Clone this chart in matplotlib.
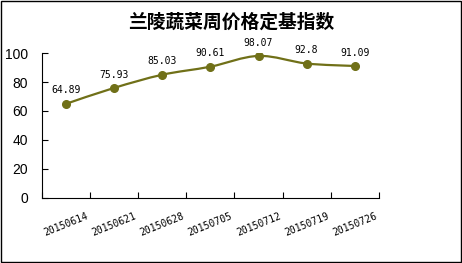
import matplotlib.pyplot as plt
from matplotlib.path import Path
from matplotlib.patches import PathPatch, Rectangle
import numpy as np

plt.rcParams['font.family'] = ['Noto Sans CJK SC', 'DejaVu Sans']

dates = ['20150614', '20150621', '20150628', '20150705', '20150712', '20150719', '20150726']
values = [64.89, 75.93, 85.03, 90.61, 98.07, 92.8, 91.09]
labels = ['64.89', '75.93', '85.03', '90.61', '98.07', '92.8', '91.09']

color = '#707018'

fig = plt.figure(figsize=(4.62, 2.63), dpi=100)
ax = fig.add_axes([0.0909, 0.249, 0.729, 0.549])

x = np.arange(len(values))
y = np.array(values)

# smoothed line like excel (catmull-rom -> bezier)
verts = [(x[0], y[0])]
codes = [Path.MOVETO]
for i in range(len(x) - 1):
    p0 = (x[max(i - 1, 0)], y[max(i - 1, 0)])
    p1 = (x[i], y[i])
    p2 = (x[i + 1], y[i + 1])
    p3 = (x[min(i + 2, len(x) - 1)], y[min(i + 2, len(x) - 1)])
    c1 = (p1[0] + (p2[0] - p0[0]) / 6, p1[1] + (p2[1] - p0[1]) / 6)
    c2 = (p2[0] - (p3[0] - p1[0]) / 6, p2[1] - (p3[1] - p1[1]) / 6)
    verts += [c1, c2, p2]
    codes += [Path.CURVE4, Path.CURVE4, Path.CURVE4]
ax.add_patch(PathPatch(Path(verts, codes), facecolor='none', edgecolor=color, lw=1.6))
ax.plot(x, y, 'o', color=color, ms=5.5, zorder=3)

for xi, yi, lab in zip(x, y, labels):
    ax.annotate(lab, (xi, yi), xytext=(0, 6), textcoords='offset points',
                ha='center', va='bottom', fontsize=7, family='DejaVu Sans Mono')

ax.set_xlim(-0.5, len(values) - 0.5)
ax.set_ylim(0, 100)
ax.set_yticks([0, 20, 40, 60, 80, 100])
ax.set_yticklabels(['0', '20', '40', '60', '80', '100'], family='Liberation Sans', fontsize=10)
ax.set_xticks(np.arange(len(values) + 1) - 0.5)
ax.set_xticklabels([])
ax.set_xticks(x, minor=True)
ax.set_xticklabels(dates, minor=True, rotation=22, ha='center', va='top',
                   fontsize=7, family='DejaVu Sans Mono')
ax.tick_params(axis='x', which='minor', length=0, pad=10)
ax.tick_params(axis='both', which='major', direction='in', length=4, color='black')
ax.tick_params(axis='y', pad=10)
for s in ['top', 'right']:
    ax.spines[s].set_visible(False)

fig.text(0.5, 0.915, '兰陵蔬菜周价格定基指数', ha='center', va='center',
         fontsize=13.5, fontweight='bold')

fig.patches.append(Rectangle((0.002, 0.004), 0.995, 0.992, transform=fig.transFigure,
                             fill=False, edgecolor='black', lw=1))

plt.savefig('out.png', dpi=100)
